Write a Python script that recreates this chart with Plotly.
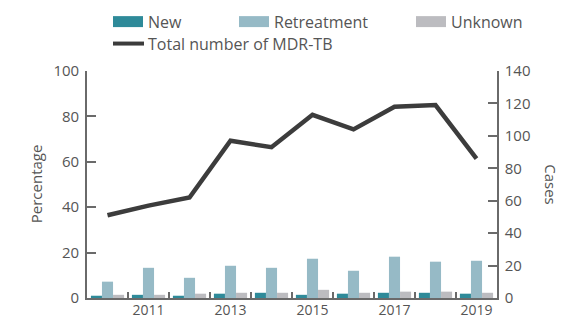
import plotly.graph_objects as go

# MDR-TB among notified TB cases, by year
years = [2010, 2011, 2012, 2013, 2014, 2015, 2016, 2017, 2018, 2019]
new_pct = [1.0, 1.4, 1.0, 1.9, 2.3, 1.4, 1.9, 2.3, 2.3, 1.9]
retreat_pct = [7.2, 13.3, 8.9, 14.2, 13.3, 17.3, 12.0, 18.2, 16.0, 16.4]
unknown_pct = [1.4, 1.4, 1.9, 2.3, 2.3, 3.6, 2.3, 2.8, 2.8, 2.3]
total_cases = [51, 57, 62, 97, 93, 113, 104, 118, 119, 86]

x_ticks = [2011, 2013, 2015, 2017, 2019]
pct_ticks = [0, 20, 40, 60, 80, 100]
case_ticks = [0, 20, 40, 60, 80, 100, 120, 140]

C_NEW = "#2e8a99"
C_RET = "#96bac6"
C_UNK = "#bcbcc0"
C_LINE = "#3c3c3c"
C_AXIS = "#6a6a6a"
C_TEXT = "#555555"
FONT = "Open Sans"

W, H = 573, 320
ML, MR, MT, MB = 87, 76, 70.5, 22
PW, PH = W - ML - MR, H - MT - MB


def px(xp):
    return (xp - ML) / PW


def py(yp):
    return (H - MB - yp) / PH


fig = go.Figure()
for name, vals, col in [("New", new_pct, C_NEW),
                        ("Retreatment", retreat_pct, C_RET),
                        ("Unknown", unknown_pct, C_UNK)]:
    fig.add_trace(go.Bar(x=years, y=vals, name=name, marker_color=col,
                         marker_line_width=0, showlegend=False))

fig.add_trace(go.Scatter(x=years, y=total_cases, yaxis="y2", mode="lines",
                         name="Total number of MDR-TB",
                         line=dict(color=C_LINE, width=4.5),
                         showlegend=False))

axis_common = dict(showline=True, linecolor=C_AXIS, linewidth=1.6,
                   showgrid=False, zeroline=False, automargin=False)
tick_font = dict(family=FONT, size=15, color=C_TEXT)

fig.update_layout(
    width=W, height=H,
    margin=dict(l=ML, r=MR, t=MT, b=MB, pad=0),
    paper_bgcolor="white", plot_bgcolor="white",
    barmode="group", bargap=0.19, bargroupgap=0,
    xaxis=dict(range=[2009.5, 2019.5], tickvals=x_ticks, ticks="",
               ticklabelstandoff=-2,
               tickfont=dict(family=FONT, size=14, color=C_TEXT),
               minor=dict(tickvals=[y + 0.5 for y in years[:-1]],
                          ticks="inside", ticklen=6, tickwidth=1.6,
                          tickcolor=C_AXIS),
               **axis_common),
    yaxis=dict(range=[0, 100], tickvals=pct_ticks, ticks="inside",
               ticklen=9, tickwidth=1.6, tickcolor=C_AXIS,
               ticklabelstandoff=3, tickfont=tick_font, **axis_common),
    yaxis2=dict(range=[0, 140], tickvals=case_ticks, overlaying="y",
                side="right", ticks="inside", ticklen=9, tickwidth=1.6,
                tickcolor=C_AXIS, ticklabelstandoff=3, tickfont=tick_font,
                **axis_common),
)

# axis titles
fig.add_annotation(text="Percentage", xref="paper", yref="paper",
                   x=px(24), y=py(184), textangle=-90, showarrow=False,
                   font=dict(family=FONT, size=15, color=C_TEXT))
fig.add_annotation(text="Cases", xref="paper", yref="paper",
                   x=px(563), y=py(184), textangle=90, showarrow=False,
                   font=dict(family=FONT, size=15, color=C_TEXT))

# legend
legend_items = [("New", C_NEW, 113, 21), ("Retreatment", C_RET, 239, 21),
                ("Unknown", C_UNK, 416, 21)]
for label, col, x0, yc in legend_items:
    fig.add_shape(type="rect", xref="paper", yref="paper",
                  x0=px(x0), x1=px(x0 + 30), y0=py(yc - 5.5), y1=py(yc + 5.5),
                  fillcolor=col, line_width=0)
    fig.add_annotation(text=label, xref="paper", yref="paper",
                       x=px(x0 + 33), y=py(yc), xanchor="left", yanchor="middle",
                       showarrow=False,
                       font=dict(family=FONT, size=16, color=C_TEXT))
fig.add_shape(type="line", xref="paper", yref="paper",
              x0=px(113), x1=px(144), y0=py(43), y1=py(43),
              line=dict(color=C_LINE, width=4))
fig.add_annotation(text="Total number of MDR-TB", xref="paper", yref="paper",
                   x=px(146), y=py(43), xanchor="left", yanchor="middle",
                   showarrow=False, font=dict(family=FONT, size=16, color=C_TEXT))

fig.write_html("out.html")
